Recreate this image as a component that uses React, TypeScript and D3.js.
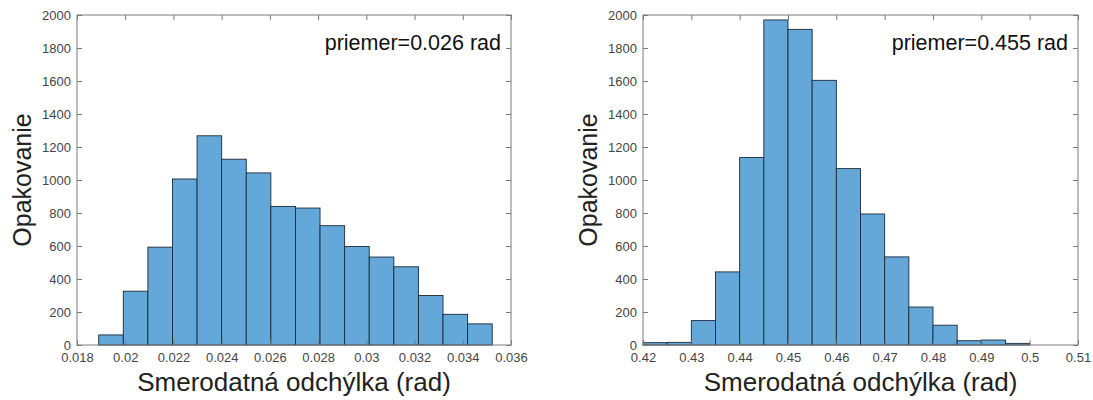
import React, { useEffect, useRef } from 'react';
import * as d3 from 'd3';

// left histogram: bin edges (rad) and counts
const leftEdges = [
  0.01890, 0.01992, 0.02094, 0.02196, 0.02298, 0.02400, 0.02502, 0.02604, 0.02706,
  0.02808, 0.02910, 0.03012, 0.03114, 0.03216, 0.03318, 0.03420, 0.03522,
];
const leftCounts = [61, 326, 593, 1006, 1268, 1126, 1043, 840, 830, 723, 597, 533, 474, 300, 186, 128];
const leftXTicks = [0.018, 0.02, 0.022, 0.024, 0.026, 0.028, 0.03, 0.032, 0.034, 0.036];
const leftXLabels = ['0.018', '0.02', '0.022', '0.024', '0.026', '0.028', '0.03', '0.032', '0.034', '0.036'];
const leftNote = 'priemer=0.026 rad';

// right histogram
const rightEdges = [
  0.42, 0.425, 0.43, 0.435, 0.44, 0.445, 0.45, 0.455, 0.46,
  0.465, 0.47, 0.475, 0.48, 0.485, 0.49, 0.495, 0.5,
];
const rightCounts = [14, 16, 148, 443, 1136, 1970, 1913, 1604, 1069, 794, 534, 230, 120, 26, 30, 10];
const rightXTicks = [0.42, 0.43, 0.44, 0.45, 0.46, 0.47, 0.48, 0.49, 0.5, 0.51];
const rightXLabels = ['0.42', '0.43', '0.44', '0.45', '0.46', '0.47', '0.48', '0.49', '0.5', '0.51'];
const rightNote = 'priemer=0.455 rad';

const yTicks = [0, 200, 400, 600, 800, 1000, 1200, 1400, 1600, 1800, 2000];
const yLabel = 'Opakovanie';
const xLabel = 'Smerodatná odchýlka (rad)';

const FONT = "'Liberation Sans', Arial, Helvetica, sans-serif";

function drawHist(svg, opts) {
  const { left, right, top, bottom, edges, counts, xTicks, xLabels, note, titleX } = opts;
  const x = d3.scaleLinear().domain([xTicks[0], xTicks[xTicks.length - 1]]).range([left, right]);
  const y = d3.scaleLinear().domain([0, 2000]).range([bottom, top]);

  const g = svg.append('g');

  // bars
  g.selectAll('rect.bar')
    .data(counts)
    .enter()
    .append('rect')
    .attr('class', 'bar')
    .attr('x', (d, i) => x(edges[i]))
    .attr('width', (d, i) => x(edges[i + 1]) - x(edges[i]))
    .attr('y', d => y(d))
    .attr('height', d => y(0) - y(d))
    .attr('fill', '#63a8d8')
    .attr('stroke', '#1c2a3a')
    .attr('stroke-width', 0.9);

  const styleAxis = (a) => {
    a.select('.domain').remove();
    a.selectAll('.tick line').attr('stroke', '#7a7a7a');
    a.selectAll('.tick text')
      .attr('fill', '#454545')
      .style('font-family', FONT)
      .style('font-size', '13px');
  };

  // bottom axis (ticks inward)
  g.append('g')
    .attr('transform', `translate(0,${bottom})`)
    .call(d3.axisBottom(x).tickValues(xTicks).tickFormat((d, i) => xLabels[i]).tickSize(-5).tickPadding(8))
    .call(styleAxis);
  // top axis, ticks only
  g.append('g')
    .attr('transform', `translate(0,${top})`)
    .call(d3.axisTop(x).tickValues(xTicks).tickFormat(() => '').tickSize(-5))
    .call(styleAxis);
  // left axis
  g.append('g')
    .attr('transform', `translate(${left},0)`)
    .call(d3.axisLeft(y).tickValues(yTicks).tickFormat(d3.format('d')).tickSize(-5).tickPadding(6))
    .call(styleAxis);
  // right axis, ticks only
  g.append('g')
    .attr('transform', `translate(${right},0)`)
    .call(d3.axisRight(y).tickValues(yTicks).tickFormat(() => '').tickSize(-5))
    .call(styleAxis);

  // box
  g.append('rect')
    .attr('x', left)
    .attr('y', top)
    .attr('width', right - left)
    .attr('height', bottom - top)
    .attr('fill', 'none')
    .attr('stroke', '#7a7a7a')
    .attr('stroke-width', 1);

  // annotation
  g.append('text')
    .attr('x', right - 10)
    .attr('y', top + 35)
    .attr('text-anchor', 'end')
    .attr('fill', '#111')
    .style('font-family', FONT)
    .style('font-size', '21.5px')
    .text(note);

  // axis titles
  g.append('text')
    .attr('x', (left + right) / 2)
    .attr('y', 391)
    .attr('text-anchor', 'middle')
    .attr('fill', '#222')
    .style('font-family', FONT)
    .style('font-size', '26px')
    .text(xLabel);

  g.append('text')
    .attr('transform', `translate(${titleX},${(top + bottom) / 2}) rotate(-90)`)
    .attr('text-anchor', 'middle')
    .attr('fill', '#222')
    .style('font-family', FONT)
    .style('font-size', '25px')
    .text(yLabel);
}

const App = () => {
  const ref = useRef(null);

  useEffect(() => {
    if (!ref.current) return;
    const svg = d3.select(ref.current);
    svg.selectAll('*').remove();

    drawHist(svg, {
      left: 77, right: 511, top: 15, bottom: 345,
      edges: leftEdges, counts: leftCounts,
      xTicks: leftXTicks, xLabels: leftXLabels, note: leftNote, titleX: 31,
    });
    drawHist(svg, {
      left: 643, right: 1078, top: 15, bottom: 345,
      edges: rightEdges, counts: rightCounts,
      xTicks: rightXTicks, xLabels: rightXLabels, note: rightNote, titleX: 597,
    });
  }, []);

  return (
    <div style={{ position: 'absolute', left: 0, top: 0, background: '#fff' }}>
      <svg ref={ref} width={1093} height={400} />
    </div>
  );
};

export default App;
